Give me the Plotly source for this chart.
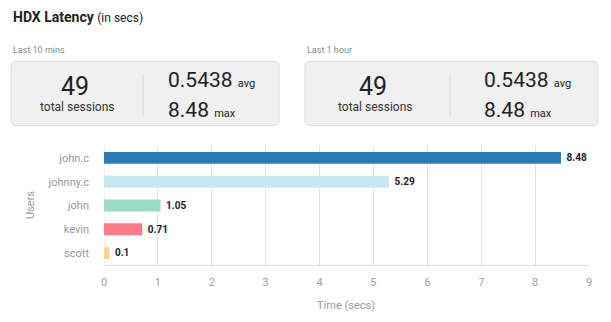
import plotly.graph_objects as go

# ---- data ----
users = ["john.c", "johnny.c", "john", "kevin", "scott"]
latency = [8.48, 5.29, 1.05, 0.71, 0.1]
bar_colors = ["#2b7bb9", "#c7e7f2", "#9ddbc9", "#ff7b8a", "#fdd38a"]
x_ticks = [0, 1, 2, 3, 4, 5, 6, 7, 8, 9]

panels = [
    {"label": "Last 10 mins", "sessions": "49", "avg": "0.5438", "max": "8.48"},
    {"label": "Last 1 hour", "sessions": "49", "avg": "0.5438", "max": "8.48"},
]

# ---- geometry (pixels) ----
W, H = 611, 322
L, R, T, B = 104, 22, 146, 57
PW, PH = W - L - R, H - T - B


def px(x):
    return (x - L) / PW


def py(y):
    return (H - B - y) / PH


FONT = "Roboto"

fig = go.Figure(
    go.Bar(
        x=latency,
        y=users,
        orientation="h",
        marker=dict(color=bar_colors, line=dict(width=0)),
        width=0.5,
        text=[f" <b>{v:g}</b>" for v in latency],
        textposition="outside",
        textfont=dict(family=FONT, size=11, color="#222"),
        cliponaxis=False,
        hoverinfo="skip",
    )
)

shapes = []
annotations = []


def rounded_rect(x0, y0, x1, y1, r):
    a0, a1 = px(x0), px(x1)
    b0, b1 = py(y0), py(y1)
    rx, ry = r / PW, r / PH
    return (
        f"M{a0 + rx},{b0} L{a1 - rx},{b0} Q{a1},{b0} {a1},{b0 - ry} "
        f"L{a1},{b1 + ry} Q{a1},{b1} {a1 - rx},{b1} "
        f"L{a0 + rx},{b1} Q{a0},{b1} {a0},{b1 + ry} "
        f"L{a0},{b0 - ry} Q{a0},{b0} {a0 + rx},{b0} Z"
    )


# card layouts: left, right, sessions centre, divider x, value x
cards = [
    dict(x0=11, x1=279, cx=75, dx=143, vx=166),
    dict(x0=305, x1=598, cx=373, dx=450, vx=482),
]

for panel, c in zip(panels, cards):
    shapes.append(dict(
        type="path", xref="paper", yref="paper",
        path=rounded_rect(c["x0"], 61.5, c["x1"], 125.5, 5),
        fillcolor="#f0f0f0", line=dict(color="#dcdcdc", width=1), layer="below",
    ))
    shapes.append(dict(
        type="line", xref="paper", yref="paper",
        x0=px(c["dx"]), x1=px(c["dx"]), y0=py(74), y1=py(117),
        line=dict(color="#d8d8d8", width=1),
    ))
    annotations += [
        dict(x=px(c["x0"]), y=py(50), text=panel["label"], xanchor="left", yanchor="middle",
             font=dict(family=FONT, size=9, color="#888")),
        dict(x=px(c["cx"]), y=py(86), text=panel["sessions"], xanchor="center", yanchor="middle",
             font=dict(family=FONT, size=25, color="#222")),
        dict(x=px(c["cx"] + 2), y=py(107), text="total sessions", xanchor="center", yanchor="middle",
             font=dict(family=FONT, size=12, color="#333")),
        dict(x=px(c["vx"]), y=py(80), text=panel["avg"] + " <span style='font-size:11px'>avg</span>",
             xanchor="left", yanchor="middle", font=dict(family=FONT, size=21, color="#222")),
        dict(x=px(c["vx"]), y=py(110), text=panel["max"] + " <span style='font-size:11px'>max</span>",
             xanchor="left", yanchor="middle", font=dict(family=FONT, size=21, color="#222")),
    ]

annotations += [
    dict(x=px(11), y=py(17), text="<b>HDX Latency</b> <span style='font-size:12px'>(in secs)</span>",
         xanchor="left", yanchor="middle", font=dict(family=FONT, size=14, color="#222")),
    dict(x=px(30), y=py(205), text="Users", textangle=-90, xanchor="center", yanchor="middle",
         font=dict(family=FONT, size=11, color="#999")),
    dict(x=px(346), y=py(305), text="Time (secs)", xanchor="center", yanchor="middle",
         font=dict(family=FONT, size=11, color="#999")),
]

for a in annotations:
    a.update(xref="paper", yref="paper", showarrow=False)

fig.update_layout(
    width=W, height=H, autosize=False,
    margin=dict(l=L, r=R, t=T, b=B, pad=0),
    paper_bgcolor="white", plot_bgcolor="white",
    showlegend=False,
    bargap=0.5,
    shapes=shapes,
    annotations=annotations,
    xaxis=dict(
        range=[0, 9], tickvals=x_ticks, showgrid=True, gridcolor="#e2e2e2", gridwidth=1,
        zeroline=False, showline=True, linecolor="#dcdcdc", linewidth=1,
        ticks="", ticklabelstandoff=7,
        tickfont=dict(family=FONT, size=11, color="#a0a0a0"), fixedrange=True,
    ),
    yaxis=dict(
        categoryorder="array", categoryarray=users, autorange="reversed",
        showgrid=False, zeroline=False, showline=False, ticks="",
        ticklabelstandoff=14,
        tickfont=dict(family=FONT, size=11, color="#999"), fixedrange=True,
    ),
    font=dict(family=FONT),
)

# grid line at x=0 as the left boundary of the plot
fig.add_shape(type="line", xref="x", yref="paper", x0=0, x1=0, y0=0, y1=1,
              line=dict(color="#e2e2e2", width=1), layer="below")

fig.write_html("out.html", config={"displayModeBar": False})
